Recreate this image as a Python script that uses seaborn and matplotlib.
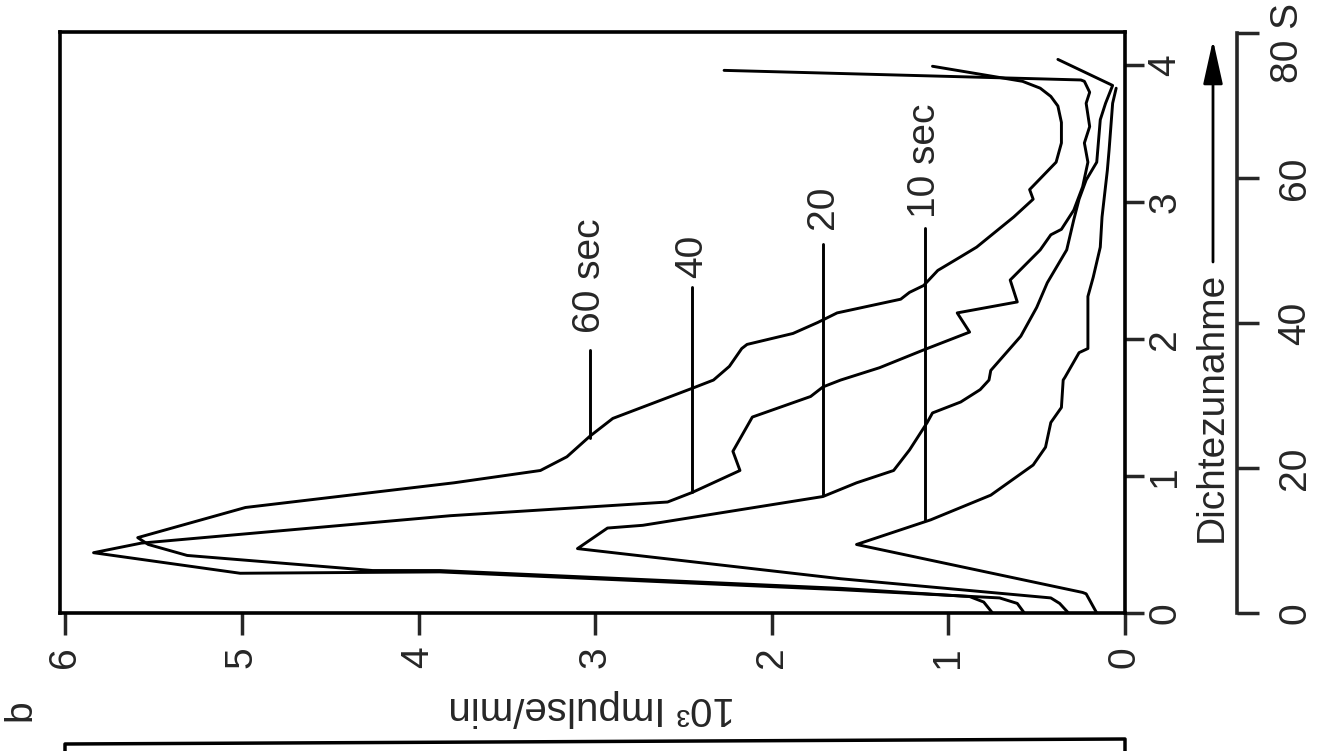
import numpy as np
import pandas as pd
import matplotlib
matplotlib.use("Agg")
from matplotlib import pyplot as plt
from matplotlib.lines import Line2D
import seaborn as sns

# curves: Dichtezunahme (density) vs 10^3 Impulse/min
dens_10 = [0.00, 0.14, 0.15, 0.50, 0.68, 0.86, 1.08, 1.21, 1.39, 1.50, 1.70, 1.72, 1.90, 1.93,
           2.31, 2.45, 2.67, 2.89, 3.23, 3.38, 3.72, 3.83]
imp_10 = [0.16, 0.22, 0.24, 1.52, 1.10, 0.76, 0.52, 0.45, 0.42, 0.36, 0.35, 0.34, 0.26, 0.21,
          0.21, 0.18, 0.14, 0.13, 0.10, 0.09, 0.07, 0.05]

dens_20 = [0.00, 0.07, 0.11, 0.25, 0.47, 0.62, 0.64, 0.85, 0.95, 1.04, 1.19, 1.39, 1.46, 1.54,
           1.63, 1.70, 1.77, 2.02, 2.23, 2.41, 2.65, 2.87, 3.02, 3.16, 3.29, 3.60, 3.72, 3.85, 4.04]
imp_20 = [0.32, 0.37, 0.42, 1.61, 3.10, 2.93, 2.73, 1.71, 1.52, 1.31, 1.22, 1.12, 1.09, 0.93,
          0.82, 0.77, 0.76, 0.59, 0.50, 0.44, 0.33, 0.29, 0.26, 0.22, 0.16, 0.14, 0.11, 0.07, 0.38]

dens_40 = [0.00, 0.07, 0.11, 0.17, 0.30, 0.29, 0.44, 0.51, 0.71, 0.81, 0.88, 1.04, 1.18, 1.43,
           1.58, 1.65, 1.70, 1.79, 1.92, 2.05, 2.19, 2.27, 2.43, 2.65, 2.76, 2.80, 2.94, 3.11,
           3.29, 3.43, 3.55, 3.72, 3.80, 3.88, 3.89, 3.96]
imp_40 = [0.57, 0.61, 0.71, 1.61, 3.88, 5.01, 5.84, 5.57, 3.82, 2.59, 2.45, 2.18, 2.22, 2.11,
          1.78, 1.71, 1.61, 1.39, 1.14, 0.88, 0.95, 0.61, 0.65, 0.48, 0.42, 0.36, 0.29, 0.24,
          0.21, 0.23, 0.20, 0.22, 0.20, 0.23, 0.25, 2.27]

dens_60 = [0.00, 0.08, 0.12, 0.18, 0.31, 0.31, 0.42, 0.50, 0.55, 0.77, 0.95, 1.04, 1.14, 1.29,
           1.42, 1.64, 1.70, 1.80, 1.93, 1.96, 2.04, 2.12, 2.19, 2.29, 2.34, 2.39, 2.50, 2.60,
           2.67, 2.89, 3.02, 3.09, 3.29, 3.43, 3.58, 3.70, 3.77, 3.83, 3.88, 3.99]
imp_60 = [0.75, 0.80, 0.88, 1.61, 3.88, 4.26, 5.31, 5.53, 5.59, 4.98, 3.80, 3.31, 3.16, 3.03,
          2.90, 2.45, 2.33, 2.24, 2.17, 2.14, 1.88, 1.74, 1.63, 1.27, 1.22, 1.14, 1.06, 0.93,
          0.84, 0.63, 0.52, 0.54, 0.39, 0.36, 0.36, 0.38, 0.42, 0.48, 0.58, 1.09]

labels = ["10 sec", "20", "40", "60 sec"]

impulse_ticks = [0, 1, 2, 3, 4, 5, 6]
density_ticks = [0, 1, 2, 3, 4]
time_ticks = [0, 20, 40, 60, 80]
time_labels = ["0", "20", "40", "60", ""]

# label leaders: impulse position, top and bottom density of the line, label centre
leaders = {
    "10 sec": (1.13, 2.81, 0.68, 3.30),
    "20": (1.71, 2.69, 0.86, 2.96),
    "40": (2.45, 2.38, 0.88, 2.60),
    "60 sec": (3.03, 1.92, 1.28, 2.46),
}

frames = []
for name, d, v in zip(labels, [dens_10, dens_20, dens_40, dens_60], [imp_10, imp_20, imp_40, imp_60]):
    frames.append(pd.DataFrame({"impulse": v, "density": d, "series": name}))
df = pd.concat(frames, ignore_index=True)

sns.set_style("white")
plt.rcParams['font.family'] = ['Liberation Sans', 'DejaVu Sans']
FS = 28

W, H = 1324, 751
fig = plt.figure(figsize=(13.24, 7.51), dpi=100)
ax = fig.add_axes([60 / W, 1 - 613 / H, (1125 - 60) / W, (613 - 32) / H])

sns.lineplot(data=df, x="impulse", y="density", hue="series", palette=["black"] * 4,
             sort=False, estimator=None, legend=False, lw=2.1, ax=ax)

for name, (v, d_top, d_bot, d_txt) in leaders.items():
    ax.plot([v, v], [d_top, d_bot], color="black", lw=2.1)
    ax.text(v, d_txt, name, rotation=90, ha="center", va="center", fontsize=FS)

ax.set_xlim(6.03, 0)
ax.set_ylim(0, 4.24)
ax.set_xlabel("")
ax.set_ylabel("")
for s in ax.spines.values():
    s.set_visible(True)
    s.set_linewidth(2.6)
    s.set_color("black")

ax.set_xticks(impulse_ticks)
ax.set_yticks(density_ticks)
ax.yaxis.tick_right()
ax.tick_params(axis="x", direction="out", length=16, width=2.5, pad=8,
               labelsize=FS, labelrotation=90, bottom=True)
ax.tick_params(axis="y", direction="out", length=14, width=2.5, pad=2,
               labelsize=FS, labelrotation=90, right=True, left=False)
for lbl in ax.get_yticklabels():
    lbl.set_va("center")

# time axis (S) to the right
ax2 = fig.add_axes([1190 / W, 1 - 613 / H, (1237 - 1190) / W, (613 - 33) / H])
ax2.patch.set_alpha(0)
ax2.set_ylim(0, 80)
ax2.set_xticks([])
for k in ["left", "top", "bottom"]:
    ax2.spines[k].set_visible(False)
ax2.spines["right"].set_linewidth(2.6)
ax2.yaxis.tick_right()
ax2.set_yticks(time_ticks)
ax2.set_yticklabels(time_labels)
ax2.tick_params(axis="y", direction="out", length=16, width=2.5, pad=13,
                labelsize=FS, labelrotation=90, right=True, left=False)
for lbl in ax2.get_yticklabels():
    lbl.set_va("center")
fig.text(1288 / W, 1 - 43 / H, "80 S", rotation=90, ha="center", va="center", fontsize=FS)

# axis titles
fig.text(592 / W, 1 - 708 / H, "10³ Impulse/min", rotation=180, ha="center", va="center", fontsize=FS + 1)
fig.text(1212 / W, 1 - 407 / H, "Dichtezunahme", rotation=90, ha="center", va="center", fontsize=FS)
ax.annotate("", xy=(1213 / W, 1 - 40 / H), xycoords="figure fraction",
            xytext=(1213 / W, 1 - 262 / H), textcoords="figure fraction",
            arrowprops=dict(arrowstyle="-|>,head_length=1.35,head_width=0.3", lw=2.0,
                            color="black", mutation_scale=20, shrinkA=0, shrinkB=0))
fig.text(20 / W, 1 - 710 / H, "b", rotation=90, ha="center", va="center", fontsize=FS)

# edge of the panel below
fig.add_artist(Line2D([65 / W, 65 / W, 1125 / W, 1125 / W], [0, 1 - 744 / H, 1 - 739 / H, 0],
                      transform=fig.transFigure, color="black", lw=2.5))

fig.savefig("out.png", dpi=100)
